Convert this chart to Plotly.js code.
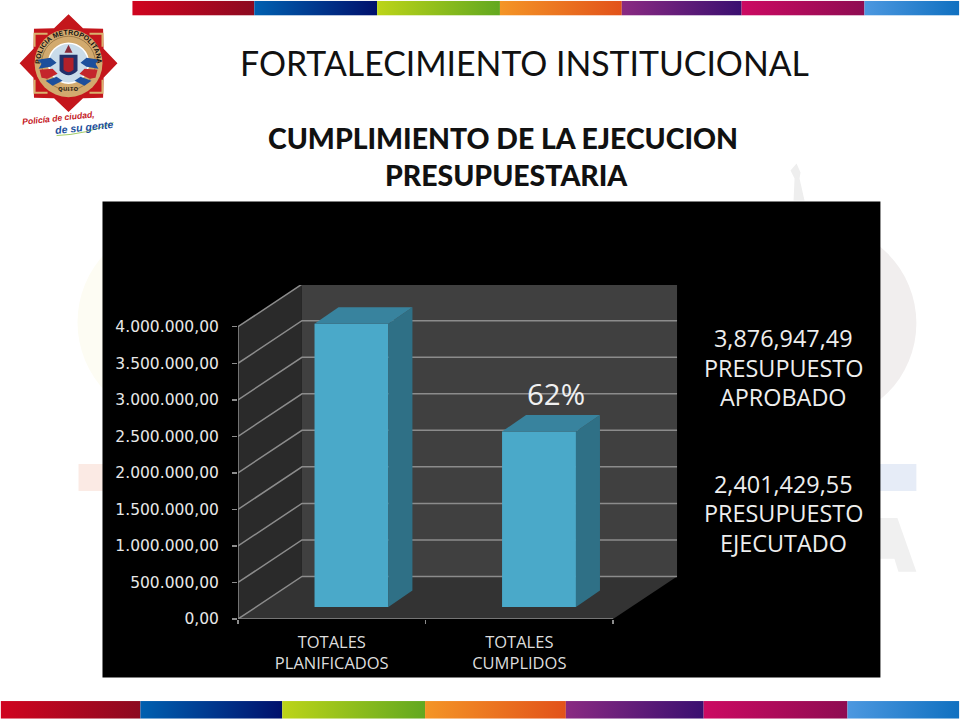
<!DOCTYPE html>
<html>
<head>
<meta charset="utf-8">
<script src="https://cdn.plot.ly/plotly-3.0.1.min.js"></script>
<style>html,body{margin:0;padding:0;background:#fff}#chart{width:960px;height:720px}</style>
</head>
<body>
<div id="chart"></div>
<script>
// ---------- data ----------
const categories = ["TOTALES<br>PLANIFICADOS", "TOTALES<br>CUMPLIDOS"];
const values = [3876947.49, 2401429.55];
const yTicks = [0, 500000, 1000000, 1500000, 2000000, 2500000, 3000000, 3500000, 4000000];
const yTickLabels = ["0,00", "500.000,00", "1.000.000,00", "1.500.000,00", "2.000.000,00", "2.500.000,00", "3.000.000,00", "3.500.000,00", "4.000.000,00"];
const percentLabel = "62%";
const sideNoteA = ["3,876,947,49", "PRESUPUESTO", "APROBADO"];
const sideNoteB = ["2,401,429,55", "PRESUPUESTO", "EJECUTADO"];
const titleText = "FORTALECIMIENTO INSTITUCIONAL";
const subtitleLines = ["CUMPLIMIENTO DE LA EJECUCION", "PRESUPUESTARIA"];

// ---------- plot frame (pixels on the 960x720 page) ----------
const L = 237.7, R = 678.3, T = 284.7, B = 619.3, W = R - L, H = B - T;
const fx = p => (p - L) / W, fy = p => (B - p) / H;
const xMax = W / 187.8, yMax = H / 36.6 * 500000;
const depthX = 0.341, depthY = 582000;         // floor depth of the fake 3-D box
const barW = 0.394, barOff = 0.105, barBase = 164000, barDX = 0.128, barDY = 225000;
const nCat = categories.length, yTop = yTicks[yTicks.length - 1];

// ---------- slide decoration ----------
const topStrip = [[132,254,"#d0041f","#8c0a20"],[254,377,"#0060b0","#00106c"],[377,500,"#bcd418","#62a820"],[500,622,"#f49526","#e2521a"],[622,742,"#8a2a82","#3a0f70"],[742,865,"#cc0a62","#8e0c52"],[865,960,"#4c98e0","#1070c0"]];
const botStrip = [[0,140,"#d0041f","#8c0a20"],[140,282,"#0060b0","#00106c"],[282,425,"#bcd418","#62a820"],[425,566,"#f49526","#e2521a"],[566,704,"#8a2a82","#3a0f70"],[704,848,"#cc0a62","#8e0c52"],[848,960,"#4c98e0","#1070c0"]];
function strips(list, y, h, tag) {
  let defs = "", rects = "";
  list.forEach((s, i) => {
    defs += `<linearGradient id="${tag}${i}"><stop offset="0" stop-color="${s[2]}"/><stop offset="1" stop-color="${s[3]}"/></linearGradient>`;
    rects += `<rect x="${s[0]}" y="${y}" width="${s[1]-s[0]}" height="${h}" fill="url(#${tag}${i})"/>`;
  });
  return `<defs>${defs}</defs>${rects}`;
}
function star(cx, cy, rTip, rIn, n) {
  const pts = [];
  for (let i = 0; i < n * 2; i++) {
    const a = -Math.PI / 2 + i * Math.PI / n, r = i % 2 ? rIn : rTip;
    pts.push((cx + r * Math.cos(a)).toFixed(1) + "," + (cy + r * Math.sin(a)).toFixed(1));
  }
  return pts.join(" ");
}
const slideSvg = `<svg xmlns="http://www.w3.org/2000/svg" width="960" height="720" viewBox="0 0 960 720">
<circle cx="177" cy="322" r="100" fill="#fdfcf3"/>
<circle cx="818" cy="323" r="99" fill="#f1eeee"/>
<path d="M794 200 L795 178 L791 170 L797 163 L801 172 L800 178 L805 200 Z" fill="#eeeeee"/>
<rect x="78" y="464" width="100" height="27" fill="#fbeae4"/>
<rect x="800" y="464" width="117" height="27" fill="#e6ecf7"/>
<path d="M860 518 L898 518 L917 572 L899 572 L895 559 L860 559 Z" fill="#f0f0f0"/>
${strips(topStrip, 0, 14.5, "t")}
${strips(botStrip, 701.5, 17.5, "b")}
<g>
<polygon points="${star(68, 62.5, 49, 38, 8)}" fill="#c4161c"/>
<path d="M34 46 L34 33 L47 33 M89 33 L102 33 L102 46 M102 79 L102 92 L89 92 M47 92 L34 92 L34 79" fill="none" stroke="#d9b26e" stroke-width="2"/>
<circle cx="68" cy="62.5" r="34" fill="#d2aa6e"/>
<circle cx="68" cy="62.5" r="27" fill="#d2aa6e" stroke="#7a5a30" stroke-width=".6"/>
<circle cx="68" cy="62.5" r="20" fill="#c9dbe9" stroke="#ffffff" stroke-width="1.5"/>
<path d="M37 59 L50 57 L56 62 L50 66 L38 68 L41 63 Z" fill="#1d4f9c"/>
<path d="M99 59 L86 57 L80 62 L86 66 L98 68 L95 63 Z" fill="#1d4f9c"/>
<path d="M39 69 L52 68 L57 73 L47 78 L41 77 Z" fill="#c4262c"/>
<path d="M97 69 L84 68 L79 73 L89 78 L95 77 Z" fill="#c4262c"/>
<path d="M45 80 L56 76 L62 80 L52 85 Z" fill="#1d4f9c"/>
<path d="M91 80 L80 76 L74 80 L84 85 Z" fill="#1d4f9c"/>
<path d="M59 54 H77 V70 Q68 79 59 70 Z" fill="#22306a"/>
<path d="M63 57 H73 V69 Q68 74 63 69 Z" fill="#b3202a"/>
<path d="M64 52 L68 44 L72 52 Z" fill="#8a2a3a"/>
<defs><path id="arcT" d="M39.5 62.5 A28.5 28.5 0 0 1 96.5 62.5"/></defs>
<text font-family="Liberation Sans" font-weight="bold" font-size="7" fill="#111" text-anchor="middle"><textPath href="#arcT" startOffset="50%">POLICIA METROPOLITANA</textPath></text>
<text x="68" y="90" font-family="Liberation Sans" font-weight="bold" font-size="5.5" fill="#111" text-anchor="middle" letter-spacing=".6">QUITO</text>
<path d="M56 135 Q85 134 113 122" fill="none" stroke="#8cbf3f" stroke-width=".8"/>
</g>
</svg>`;

// ---------- marks ----------
const poly = (x, y, fill, xa, ya) => ({type:"scatter", mode:"lines", x, y, fill:"toself", fillcolor:fill, line:{width:0}, hoverinfo:"skip", showlegend:false, xaxis:xa||"x", yaxis:ya||"y"});
const seg = (x, y, color, w) => ({type:"scatter", mode:"lines", x, y, line:{color, width:w}, hoverinfo:"skip", showlegend:false, cliponaxis:false});
const gridX = [], gridY = [];
yTicks.forEach(v => { gridX.push(0, depthX, nCat + depthX, null); gridY.push(v, v + depthY, v + depthY, null); });
const barX = categories.map((c, i) => i + 0.5 + barOff);
const sideFaces = barX.map((c, i) => poly(
  [c + barW/2, c + barW/2 + barDX, c + barW/2 + barDX, c + barW/2],
  [barBase, barBase + barDY, barBase + values[i] + barDY, barBase + values[i]], "#2f7086", "x2", "y2"));
const topFaces = barX.map((c, i) => poly(
  [c - barW/2, c - barW/2 + barDX, c + barW/2 + barDX, c + barW/2],
  [barBase + values[i], barBase + values[i] + barDY, barBase + values[i] + barDY, barBase + values[i]], "#38839e", "x2", "y2"));
const traces = [
  poly([depthX, nCat + depthX, nCat + depthX, depthX], [depthY, depthY, yTop + depthY, yTop + depthY], "#404040"),
  poly([0, depthX, depthX, 0], [0, depthY, yTop + depthY, yTop], "#2a2a2a"),
  poly([0, nCat, nCat + depthX, depthX], [0, 0, depthY, depthY], "#333333"),
  seg(gridX, gridY, "#8c8c8c", 1.5),
  seg([0, 0, nCat], [yTop, 0, 0], "#8c8c8c", 1.5),
  {type:"bar", x:barX, y:values, base:barBase, width:barW, marker:{color:"#4aa9c9", line:{width:0}}, xaxis:"x2", yaxis:"y2", hoverinfo:"skip", showlegend:false},
  ...sideFaces, ...topFaces
];

// ---------- text ----------
const ann = (text, px, py, size, color, family, extra) => Object.assign({text, x:fx(px), y:fy(py), xref:"paper", yref:"paper", showarrow:false, xanchor:"center", yanchor:"middle", font:{size, color, family}}, extra || {});
const sideFont = "Open Sans";
const annotations = [
  ann(subtitleLines[0], 503, 137, 28.4, "#111111", "Lato", {font:{size:28.4, color:"#111111", family:"Lato", weight:900}}),
  ann(subtitleLines[1], 506.5, 175, 28.4, "#111111", "Lato", {font:{size:28.4, color:"#111111", family:"Lato", weight:900}}),
  {text:percentLabel, x:barX[1] + barDX/2 + 0.028, y:3082000, xref:"x", yref:"y", showarrow:false, font:{size:29.5, color:"#f0f0f0", family:sideFont}},
  ...sideNoteA.map((t, i) => ann(t, 784, 338 + i * 29.5, 23.4, "#eeeeee", sideFont)),
  ...sideNoteB.map((t, i) => ann(t, 784, 484 + i * 29.5, 23.4, "#eeeeee", sideFont)),
  ann("<b><i>Policía de ciudad,</i></b>", 58, 117, 8.6, "#c4161c", "Liberation Sans", {textangle:-6}),
  ann("<b><i>de su gente</i></b>", 84, 126, 10.5, "#1d4f9c", "Liberation Sans", {textangle:-6})
];

const layout = {
  width:960, height:720,
  margin:{l:L, r:960 - R, t:T, b:720 - B, pad:0},
  paper_bgcolor:"#ffffff", plot_bgcolor:"rgba(0,0,0,0)",
  showlegend:false, hovermode:false, barmode:"overlay",
  title:{text:titleText, x:524.5/960, xref:"container", xanchor:"center", y:1 - 64/720, yref:"container", yanchor:"middle", font:{size:33.8, color:"#111111", family:"Lato"}},
  xaxis:{range:[0, xMax], tickmode:"array", tickvals:categories.map((c, i) => i + 0.5), ticktext:categories, ticks:"", showline:false, showgrid:false, zeroline:false, tickfont:{size:16.5, color:"#dddddd", family:sideFont}, ticklabelstandoff:11, automargin:false, tickangle:0},
  yaxis:{range:[0, yMax], tickmode:"array", tickvals:yTicks, ticktext:yTickLabels, ticks:"outside", ticklen:5, tickwidth:1.5, tickcolor:"#8c8c8c", showline:false, showgrid:false, zeroline:false, tickfont:{size:15.5, color:"#e8e8e8", family:"DejaVu Sans"}, ticklabelstandoff:10, automargin:false},
  xaxis2:{overlaying:"x", anchor:"y2", range:[0, xMax], tickmode:"array", tickvals:categories.map((c, i) => i).concat(nCat), ticks:"outside", ticklen:4, tickwidth:1.5, tickcolor:"#8c8c8c", showticklabels:false, showline:false, showgrid:false, zeroline:false},
  yaxis2:{overlaying:"y", anchor:"x2", range:[0, yMax], showticklabels:false, ticks:"", showline:false, showgrid:false, zeroline:false},
  images:[{source:"data:image/svg+xml;charset=utf-8," + encodeURIComponent(slideSvg), xref:"paper", yref:"paper", x:fx(0), y:fy(0), sizex:960/W, sizey:720/H, sizing:"stretch", xanchor:"left", yanchor:"top", layer:"below"}],
  shapes:[{type:"rect", xref:"paper", yref:"paper", x0:fx(102), x1:fx(881), y0:fy(201), y1:fy(678), fillcolor:"#000000", line:{width:0}, layer:"below"}],
  annotations
};
Plotly.newPlot("chart", traces, layout, {staticPlot:true, displayModeBar:false});
</script>
</body>
</html>
